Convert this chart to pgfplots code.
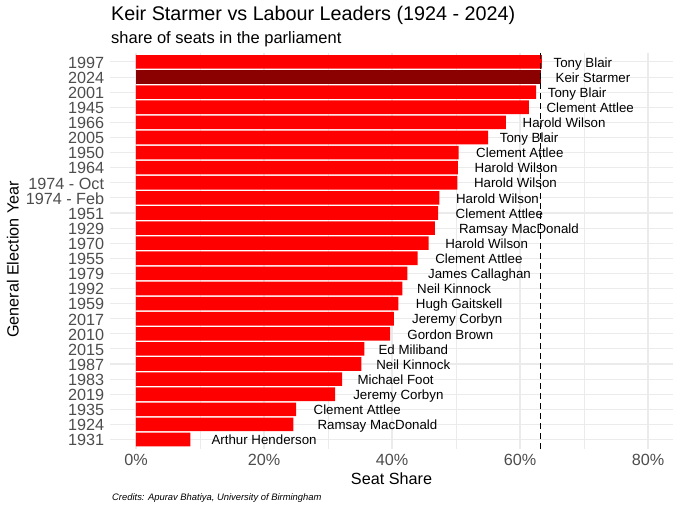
\documentclass[border=0pt]{standalone}
\usepackage{fontspec}
\setmainfont{Liberation Sans}
\usepackage{pgfplots}
\usepackage{pgfplotstable}
\pgfplotsset{compat=1.18}
\definecolor{gridc}{HTML}{EBEBEB}
\definecolor{gray30}{HTML}{4D4D4D}
\definecolor{barred}{HTML}{FF0000}
\definecolor{bardark}{HTML}{8B0000}
\newcommand\titlefont{\fontsize{19.75bp}{23bp}\selectfont}
\newcommand\subfont{\fontsize{16.5bp}{19bp}\selectfont}
\newcommand\axfont{\fontsize{16.2bp}{19bp}\selectfont}
\newcommand\lblfont{\fontsize{13.3bp}{16bp}\selectfont}
\newcommand\credfont{\fontsize{9.4bp}{11bp}\selectfont\itshape}
\newcommand\lbl[1]{\setbox0=\hbox{#1}\hspace*{0.2\wd0}\box0}
\pgfplotstableread[col sep=comma,row sep=\\]{
pos,share,leader\\
25,63.4,Tony Blair\\
23,62.5,Tony Blair\\
22,61.4,Clement Attlee\\
21,57.8,Harold Wilson\\
20,55.0,Tony Blair\\
19,50.4,Clement Attlee\\
18,50.3,Harold Wilson\\
17,50.2,Harold Wilson\\
16,47.4,Harold Wilson\\
15,47.2,Clement Attlee\\
14,46.7,Ramsay MacDonald\\
13,45.7,Harold Wilson\\
12,44.0,Clement Attlee\\
11,42.4,James Callaghan\\
10,41.6,Neil Kinnock\\
9,41.0,Hugh Gaitskell\\
8,40.3,Jeremy Corbyn\\
7,39.7,Gordon Brown\\
6,35.7,Ed Miliband\\
5,35.2,Neil Kinnock\\
4,32.2,Michael Foot\\
3,31.1,Jeremy Corbyn\\
2,25.0,Clement Attlee\\
1,24.6,Ramsay MacDonald\\
0,8.5,Arthur Henderson\\
}\labourtbl
\pgfplotstableread[col sep=comma,row sep=\\]{
pos,share,leader\\
24,63.2,Keir Starmer\\
}\starmertbl
\begin{document}
\begin{tikzpicture}[x=1bp,y=1bp]
\path[use as bounding box] (0,0) rectangle (680,510);
\begin{axis}[
  at={(110bp,61.4bp)}, anchor=south west,
  width=563bp, height=395.7bp, scale only axis,
  xmin=-4.06, xmax=83.9, ymin=-0.6, ymax=25.6,
  axis line style={draw=none},
  major tick length=0pt, minor tick length=0pt,
  xtick={0,20,40,60,80}, xticklabels={0\%,20\%,40\%,60\%,80\%},
  minor xtick={10,30,50,70},
  ytick={0,...,25},
  yticklabels={1931,1924,1935,2019,1983,1987,2015,2010,2017,1959,1992,1979,1955,1970,1929,1951,1974 - Feb,1974 - Oct,1964,1950,2005,1966,1945,2001,2024,1997},
  xmajorgrids, xminorgrids, ymajorgrids,
  major grid style={line width=1.1bp, color=gridc},
  minor grid style={line width=0.55bp, color=gridc},
  tick label style={font=\axfont, text=gray30},
  xticklabel style={anchor=base, inner sep=0pt, yshift=-17.4bp},
  yticklabel style={anchor=base east, inner sep=0pt, xshift=-5.7bp, yshift=-6.3bp},
  clip=false,
]
\addplot[xbar, bar width=0.9, bar shift=0pt, fill=barred, draw=none,
  point meta=explicit symbolic,
  nodes near coords={\lbl{\pgfplotspointmeta}},
  nodes near coords style={anchor=base west, inner sep=0pt, yshift=-5.2bp, font=\lblfont, text=black}]
  table[x=share, y=pos, meta=leader] {\labourtbl};
\addplot[xbar, bar width=0.9, bar shift=0pt, fill=bardark, draw=none,
  point meta=explicit symbolic,
  nodes near coords={\lbl{\pgfplotspointmeta}},
  nodes near coords style={anchor=base west, inner sep=0pt, yshift=-5.2bp, font=\lblfont, text=black}]
  table[x=share, y=pos, meta=leader] {\starmertbl};
\addplot[black, line width=1.3bp, dash pattern=on 5.5bp off 4.5bp] coordinates {(63.2,-0.6) (63.2,25.6)};
\end{axis}
\node[anchor=base west, inner sep=0pt, font=\titlefont] at (111,489.3) {Keir Starmer vs Labour Leaders (1924 - 2024)};
\node[anchor=base west, inner sep=0pt, font=\subfont] at (111,466.6) {share of seats in the parliament};
\node[anchor=base, inner sep=0pt, font=\axfont] at (391.5,25.7) {Seat Share};
\node[anchor=base, inner sep=0pt, font=\axfont, rotate=90] at (18.5,250.5) {General Election Year};
\node[anchor=base west, inner sep=0pt, font=\credfont] at (112,9) {Credits: Apurav Bhatiya, University of Birmingham};
\end{tikzpicture}
\end{document}
